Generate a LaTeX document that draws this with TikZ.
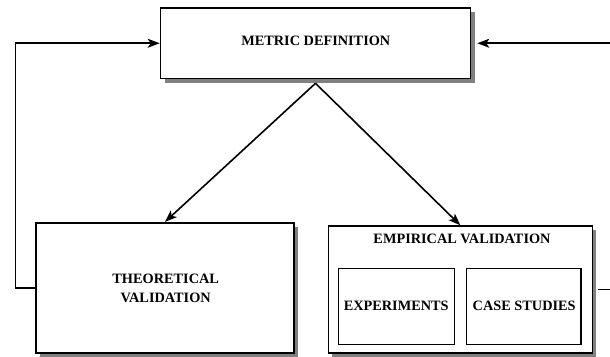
\documentclass[tikz,border=0pt]{standalone}
\usepackage{fontspec}
\setmainfont{Liberation Serif}
\usetikzlibrary{arrows.meta,shadows}
\definecolor{shadowgray}{HTML}{808080}
\tikzset{
  box/.style={draw=black, line width=1.6pt, fill=white, rectangle, inner sep=0pt},
  shadowbox/.style={box, drop shadow={shadow xshift=4pt, shadow yshift=-4pt, fill=shadowgray, opacity=1}},
  lbl/.style={anchor=base, inner sep=0pt, font=\fontsize{14.3}{19.5}\selectfont\bfseries},
  conn/.style={line width=1.6pt, -{Stealth[length=12pt,width=9pt,inset=3pt]}}
}
\begin{document}
\begin{tikzpicture}[x=1pt,y=-1pt]
\useasboundingbox (0,0) rectangle (610,356);
\clip (0,0) rectangle (610,356);
% boxes
\node[shadowbox, minimum width=310pt, minimum height=70.5pt] (metric) at (315.5,43.25) {};
\node[shadowbox, minimum width=258.5pt, minimum height=130pt] (theo) at (165,287.7) {};
\node[shadowbox, minimum width=264pt, minimum height=126.7pt] (emp) at (460.3,289.4) {};
\node[box, minimum width=116pt, minimum height=76pt] (exp) at (396.3,306.3) {};
\node[box, minimum width=114.3pt, minimum height=76pt] (case) at (523.8,306.3) {};
% labels
\node[lbl] (metriclbl) at (315.8,45.5) {METRIC DEFINITION};
\node[lbl] (theolbl1) at (165.7,283) {THEORETICAL};
\node[lbl] (theolbl2) at (165.7,302.5) {VALIDATION};
\node[lbl] (emplbl) at (462,243) {EMPIRICAL VALIDATION};
\node[lbl] (explbl) at (396.2,310) {EXPERIMENTS};
\node[lbl] (caselbl) at (524.2,310) {CASE STUDIES};
% connectors
\draw[conn] ([yshift=-4pt]metric.south) -- (theo.north);
\draw[conn] ([yshift=-4pt]metric.south) -- (emp.north);
\draw[conn] (theo.west) -- ++(-19.5,0) |- (metric.west);
\draw[conn] ([xshift=4.5pt]emp.east) -- ++(40,0) |- ([xshift=6pt]metric.east);
\end{tikzpicture}
\end{document}
